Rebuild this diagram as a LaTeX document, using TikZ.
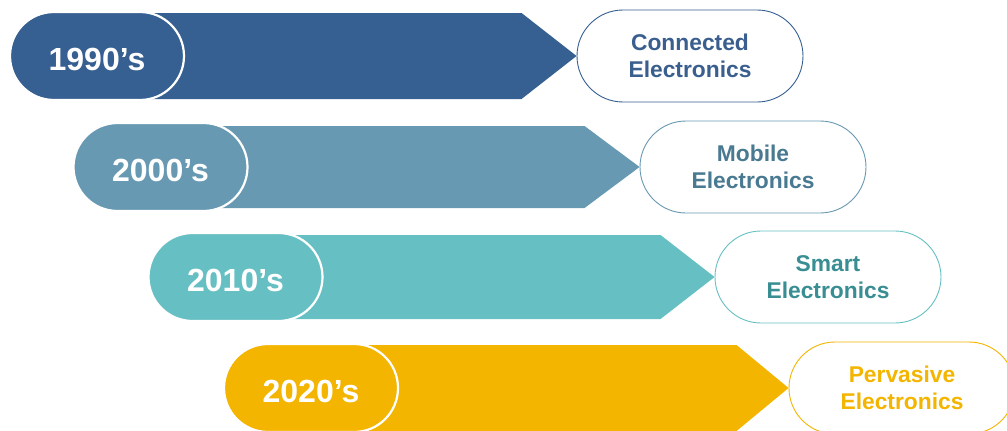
\documentclass[tikz,border=0pt]{standalone}
\usepackage{fontspec}
\setmainfont{Liberation Sans}
\usetikzlibrary{calc}
\definecolor{cA}{RGB}{54,96,145}
\definecolor{cAt}{RGB}{58,95,142}
\definecolor{cB}{RGB}{104,153,178}
\definecolor{cBt}{RGB}{74,122,145}
\definecolor{cC}{RGB}{102,192,195}
\definecolor{cCt}{RGB}{56,142,146}
\definecolor{cD}{RGB}{243,181,0}
\definecolor{cDt}{RGB}{243,181,0}
\begin{document}
\begin{tikzpicture}[x=1pt,y=-1pt,
  inpill/.style={rectangle, rounded corners=44pt, minimum width=174pt, minimum height=88pt,
    inner sep=0pt, draw=white, line width=2.2pt, text=white, text height=28pt, text depth=0pt,
    font=\fontsize{32}{38}\selectfont\bfseries},
  outpill/.style={rectangle, rounded corners=46pt, minimum width=226pt, minimum height=92pt,
    inner sep=0pt, fill=white, line width=0.9pt, align=center,
    font=\fontsize{22.8}{26.5}\selectfont\bfseries},
]
\useasboundingbox (0,0) rectangle (1007,431);
\clip (0,0) rectangle (1007,431);

% Row 1
\node[outpill, draw=cA, text=cAt] (o1) at (690,56) {Connected\\Electronics};
\coordinate (s1) at (97,56);
\fill[cA] ($(s1)+(0,-43)$) -- ($(o1.west)+(-55,-43)$) -- (o1.west)
  -- ($(o1.west)+(-55,43)$) -- ($(s1)+(0,43)$) -- cycle;
\node[inpill, fill=cA] (i1) at (s1) {1990’s};

% Row 2
\node[outpill, draw=cB, text=cBt] (o2) at (753,167) {Mobile\\Electronics};
\coordinate (s2) at (160.5,167);
\fill[cB] ($(s2)+(0,-41)$) -- ($(o2.west)+(-55,-41)$) -- (o2.west)
  -- ($(o2.west)+(-55,41)$) -- ($(s2)+(0,41)$) -- cycle;
\node[inpill, fill=cB] (i2) at (s2) {2000’s};

% Row 3
\node[outpill, draw=cC, text=cCt] (o3) at (828,277) {Smart\\Electronics};
\coordinate (s3) at (235.5,277);
\fill[cC] ($(s3)+(0,-42)$) -- ($(o3.west)+(-54,-42)$) -- (o3.west)
  -- ($(o3.west)+(-54,42)$) -- ($(s3)+(0,42)$) -- cycle;
\node[inpill, fill=cC] (i3) at (s3) {2010’s};

% Row 4
\node[outpill, draw=cD, text=cDt] (o4) at (902,388) {Pervasive\\Electronics};
\coordinate (s4) at (311,388);
\fill[cD] ($(s4)+(0,-43)$) -- ($(o4.west)+(-52,-43)$) -- (o4.west)
  -- ($(o4.west)+(-52,43)$) -- ($(s4)+(0,43)$) -- cycle;
\node[inpill, fill=cD] (i4) at (s4) {2020’s};
\end{tikzpicture}
\end{document}
